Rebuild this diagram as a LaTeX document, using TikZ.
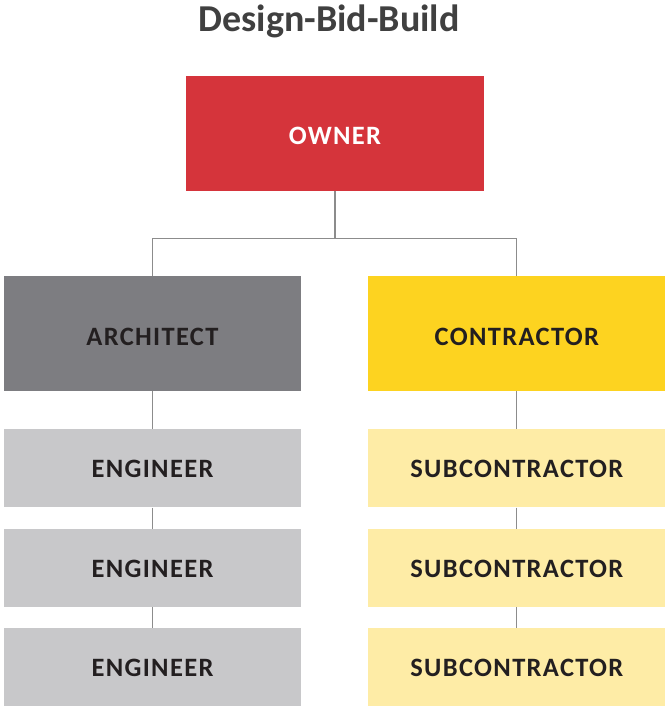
\documentclass[tikz,border=0pt]{standalone}
\usepackage{fontspec}
\setmainfont{Carlito}
\newfontfamily\labelfont[LetterSpace=5]{Carlito}
\usetikzlibrary{positioning}
\definecolor{ownerred}{HTML}{D5343B}
\definecolor{archgrey}{HTML}{7D7D81}
\definecolor{contryellow}{HTML}{FDD320}
\definecolor{enggrey}{HTML}{C8C8CA}
\definecolor{subyellow}{HTML}{FEECA6}
\definecolor{labeltext}{HTML}{231F20}
\definecolor{titlegrey}{HTML}{404040}
\definecolor{linegrey}{HTML}{8C8C8C}

\begin{document}
\begin{tikzpicture}[x=1pt, y=1pt,
  box/.style={rectangle, minimum width=297pt, inner sep=0pt, text=labeltext,
    font=\labelfont\bfseries\fontsize{26.5}{26.5}\selectfont},
  bigbox/.style={box, minimum height=115pt, text height=23pt, text depth=0pt},
  smallbox/.style={box, minimum height=78pt, text height=19pt, text depth=0pt},
  link/.style={draw=linegrey, line width=1.1pt}]
%\draw [help lines] (0,0) grid (667,-707);
\useasboundingbox (0,0) rectangle (667,-707);

\node[text=titlegrey, font=\bfseries\fontsize{38}{38}\selectfont] (title) at (329,-21) {Design-Bid-Build};

\node[bigbox, fill=ownerred, text=white, minimum width=298pt] (owner) at (335,-133) {OWNER};
\node[bigbox, fill=archgrey]                      (arch)  at (152.5,-333.5) {ARCHITECT};
\node[bigbox, fill=contryellow, right = 67pt of arch] (contr) {CONTRACTOR};

\node[smallbox, fill=enggrey, below = 38pt of arch]  (eng1) {ENGINEER};
\node[smallbox, fill=enggrey, below = 21pt of eng1]  (eng2) {ENGINEER};
\node[smallbox, fill=enggrey, below = 21pt of eng2]  (eng3) {ENGINEER};

\node[smallbox, fill=subyellow, below = 38pt of contr] (sub1) {SUBCONTRACTOR};
\node[smallbox, fill=subyellow, below = 21pt of sub1]  (sub2) {SUBCONTRACTOR};
\node[smallbox, fill=subyellow, below = 21pt of sub2]  (sub3) {SUBCONTRACTOR};

\coordinate[below = 48pt of owner.south] (split);

% Edges
\draw[link] (owner) -- (split);
\draw[link] (split) -| (arch);
\draw[link] (split) -| (contr);
\draw[link] (arch) -- (eng1);
\draw[link] (eng1) -- (eng2);
\draw[link] (eng2) -- (eng3);
\draw[link] (contr) -- (sub1);
\draw[link] (sub1) -- (sub2);
\draw[link] (sub2) -- (sub3);
\end{tikzpicture}
\end{document}
